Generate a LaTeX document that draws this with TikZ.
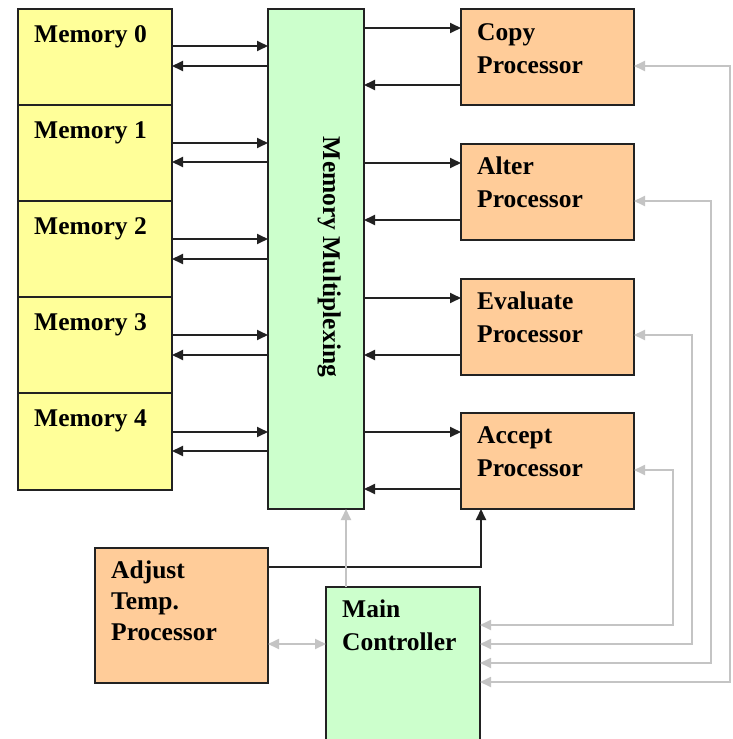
\documentclass[tikz,border=0pt]{standalone}
\usepackage{fontspec}
\setmainfont{Liberation Serif}
\usetikzlibrary{arrows.meta}
\definecolor{memfill}{HTML}{FFFF99}
\definecolor{muxfill}{HTML}{CCFFCC}
\definecolor{procfill}{HTML}{FFCC99}
\definecolor{edge}{HTML}{222222}
\definecolor{ctrl}{HTML}{C4C4C4}
% invisible strut fixing the height of a label's first line
\newcommand{\firstln}{\rule{0pt}{20pt}}
\tikzset{
  box/.style={draw=edge, line width=1.4pt, inner sep=0pt, outer sep=0pt},
  membox/.style={box, fill=memfill, minimum width=154pt, minimum height=96pt},
  procbox/.style={box, fill=procfill, minimum width=173pt, minimum height=96pt},
  lbl/.style={anchor=north west, font=\bfseries\fontsize{25.5}{33}\selectfont, align=left, inner sep=0pt},
  blk/.style={draw=edge, line width=1.8pt, -{Triangle[length=11pt,width=10pt]}},
  gry/.style={draw=ctrl, line width=1.8pt, {Triangle[length=11pt,width=10pt]}-{Triangle[length=11pt,width=10pt]}},
  gryone/.style={draw=ctrl, line width=1.8pt, -{Triangle[length=11pt,width=10pt]}},
}
\begin{document}
\begin{tikzpicture}[x=1pt, y=-1pt]
\useasboundingbox (0,0) rectangle (732,739);
\clip (0,0) rectangle (732,739);
\fill[white] (0,0) rectangle (732,739);

% memory banks
\node[membox] (m0) at (95,57) {};
\node[membox] (m1) at (95,153) {};
\node[membox] (m2) at (95,249) {};
\node[membox] (m3) at (95,345) {};
\node[membox, minimum height=97pt] (m4) at (95,441.5) {};
\node[lbl] (m0t) at (34,22) {\firstln Memory 0};
\node[lbl] (m1t) at (34,118) {\firstln Memory 1};
\node[lbl] (m2t) at (34,214) {\firstln Memory 2};
\node[lbl] (m3t) at (34,310) {\firstln Memory 3};
\node[lbl] (m4t) at (34,406) {\firstln Memory 4};

% multiplexer
\node[box, fill=muxfill, minimum width=96pt, minimum height=500pt] (mux) at (316,259) {};
\node[font=\bfseries\fontsize{25.5}{33}\selectfont, rotate=-90, anchor=base, inner sep=0pt] (muxt) at (323,257) {Memory Multiplexing};

% processors
\node[procbox] (cp) at (547.5,57) {};
\node[procbox] (al) at (547.5,192) {};
\node[procbox] (ev) at (547.5,327) {};
\node[procbox] (ac) at (547.5,461) {};
\node[lbl] (cpt) at (477,20) {\firstln Copy\\Processor};
\node[lbl] (alt) at (477,154) {\firstln Alter\\Processor};
\node[lbl] (evt) at (477,289) {\firstln Evaluate\\Processor};
\node[lbl] (act) at (477,423) {\firstln Accept\\Processor};

% adjust temperature processor and main controller
\node[box, fill=procfill, minimum width=173pt, minimum height=135pt] (adj) at (181.5,615.5) {};
\node[lbl, font=\bfseries\fontsize{25.5}{31}\selectfont] (adjt) at (111,558) {\firstln Adjust\\Temp.\\Processor};
\node[box, fill=muxfill, minimum width=154pt, minimum height=180pt] (mc) at (403,677) {};
\node[lbl] (mct) at (342,597) {\firstln Main\\Controller};

% memory <-> multiplexer
\foreach \m/\up/\dn in {m0/11/-9,m1/10/-9,m2/10/-10,m3/10/-10,m4/9.5/-9.5}{
  \draw[blk] ([yshift=\up pt]\m.east) -- ([yshift=\up pt]\m.east -| mux.west);
  \draw[blk] ([yshift=\dn pt]\m.east -| mux.west) -- ([yshift=\dn pt]\m.east);
}

% multiplexer <-> processors
\foreach \p in {cp,al,ev,ac}{
  \draw[blk] ([yshift=29pt]\p.west -| mux.east) -- ([yshift=29pt]\p.west);
  \draw[blk] ([yshift=-28pt]\p.west) -- ([yshift=-28pt]\p.west -| mux.east);
}

% adjust temp -> accept
\draw[blk] ([yshift=-19pt]adj.north east) -| ([xshift=20pt]ac.south west);

% controller links
\coordinate (mcup) at ([xshift=20pt]mc.north west);
\draw[gryone] (mcup) -- (mcup |- mux.south);
\coordinate (adjr) at ([yshift=-28.5pt]adj.east);
\draw[gry] (adjr) -- (adjr -| mc.west);

\coordinate (r1) at (730,682);
\coordinate (r2) at (711,663);
\coordinate (r3) at (692,644);
\coordinate (r4) at (673,625);
\draw[gry] ([yshift=-9pt]cp.east) -| (r1) -- (r1 -| mc.east);
\draw[gry] ([yshift=-9pt]al.east) -| (r2) -- (r2 -| mc.east);
\draw[gry] ([yshift=-8pt]ev.east) -| (r3) -- (r3 -| mc.east);
\draw[gry] ([yshift=-9pt]ac.east) -| (r4) -- (r4 -| mc.east);
\end{tikzpicture}
\end{document}
